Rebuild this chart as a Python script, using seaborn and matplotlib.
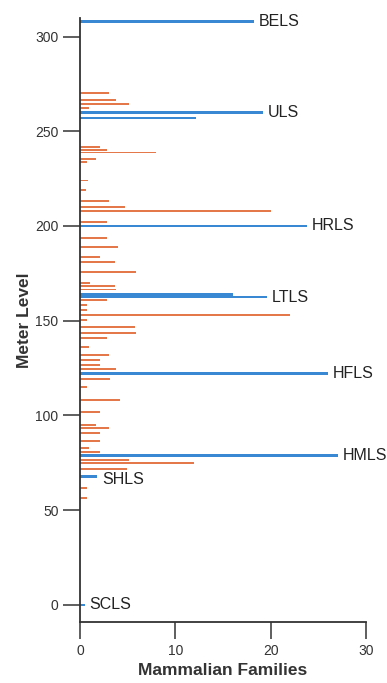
import numpy as np
import pandas as pd
import seaborn as sns
import matplotlib.pyplot as plt

# faunal levels with few families (orange)
orange_levels = [270.2, 266.5, 264.4, 262.3, 241.7, 240.0, 238.8, 235.4, 234.0,
                 224.0, 219.0, 213.2, 210.0, 207.9, 202.3, 193.7, 189.0, 183.6,
                 181.0, 175.7, 170.0, 168.5, 166.5, 161.0, 158.3, 155.7, 153.0,
                 150.4, 146.8, 143.5, 140.9, 136.3, 131.9, 129.3, 126.6, 124.5,
                 119.3, 115.0, 108.2, 101.8, 95.0, 93.4, 90.8, 86.5, 82.8, 80.7,
                 76.5, 74.9, 71.8, 61.7, 56.5]
orange_counts = [3.0, 3.8, 5.1, 0.9, 2.1, 2.8, 8.0, 1.7, 0.7,
                 0.8, 0.6, 3.0, 4.7, 20.0, 2.8, 2.8, 4.0, 2.1,
                 3.7, 5.9, 1.0, 3.7, 3.8, 2.8, 0.7, 0.7, 22.0,
                 0.7, 5.8, 5.9, 2.8, 0.9, 3.0, 2.1, 2.1, 3.8,
                 3.1, 0.7, 4.2, 2.1, 1.7, 3.0, 2.1, 2.1, 0.9, 2.1,
                 5.1, 11.9, 4.9, 0.7, 0.7]

# local sections (blue)
blue_levels = [308, 260, 257, 200, 164, 162.5, 122, 79, 68, 0]
blue_counts = [18.2, 19.2, 12.2, 23.8, 16.0, 19.6, 26.0, 27.0, 1.8, 0.5]
blue_names = ["BELS", "ULS", "", "HRLS", "", "LTLS", "HFLS", "HMLS", "SHLS", "SCLS"]

orange_df = pd.DataFrame({"level": orange_levels, "families": orange_counts})
blue_df = pd.DataFrame({"level": blue_levels, "families": blue_counts})

sns.set_style("ticks")
plt.rcParams['font.family'] = ['Liberation Sans', 'DejaVu Sans']

fig = plt.figure(figsize=(3.87, 6.83), dpi=100)
ax = fig.add_axes([0.207, 0.0893, 0.739, 0.885])

# thickness of bars in meters -> seaborn width is relative to min spacing
o_w = 1.0 / np.diff(np.unique(orange_levels)).min()
b_w = 1.5 / np.diff(np.unique(blue_levels)).min()

sns.barplot(data=orange_df, x="families", y="level", orient="y", native_scale=True,
            color="#e4784a", saturation=1, width=o_w, linewidth=0, errorbar=None, ax=ax)
sns.barplot(data=blue_df, x="families", y="level", orient="y", native_scale=True,
            color="#3888d4", saturation=1, width=b_w, linewidth=0, errorbar=None, ax=ax)

for name, lev, cnt in zip(blue_names, blue_levels, blue_counts):
    if not name:
        continue
    dy = -2 if name == "SHLS" else 0
    ax.text(cnt + 0.5, lev + dy, name, fontsize=11.5, va="center", ha="left", color="#222222")

ax.set_xlim(0, 30)
ax.set_ylim(-9, 310)
ax.set_xticks([0, 10, 20, 30])
ax.set_yticks(range(0, 301, 50))
ax.tick_params(length=12, width=1.1, labelsize=10, color="#333333", labelcolor="#333333")
for s in ["left", "bottom"]:
    ax.spines[s].set_linewidth(1.3)
    ax.spines[s].set_color("#333333")
sns.despine(ax=ax)

ax.set_xlabel("Mammalian Families", fontsize=12.5, fontweight="bold", color="#333333", labelpad=4)
ax.set_ylabel("Meter Level", fontsize=12.5, fontweight="bold", color="#333333", labelpad=2)

fig.savefig("out.png", dpi=100)
